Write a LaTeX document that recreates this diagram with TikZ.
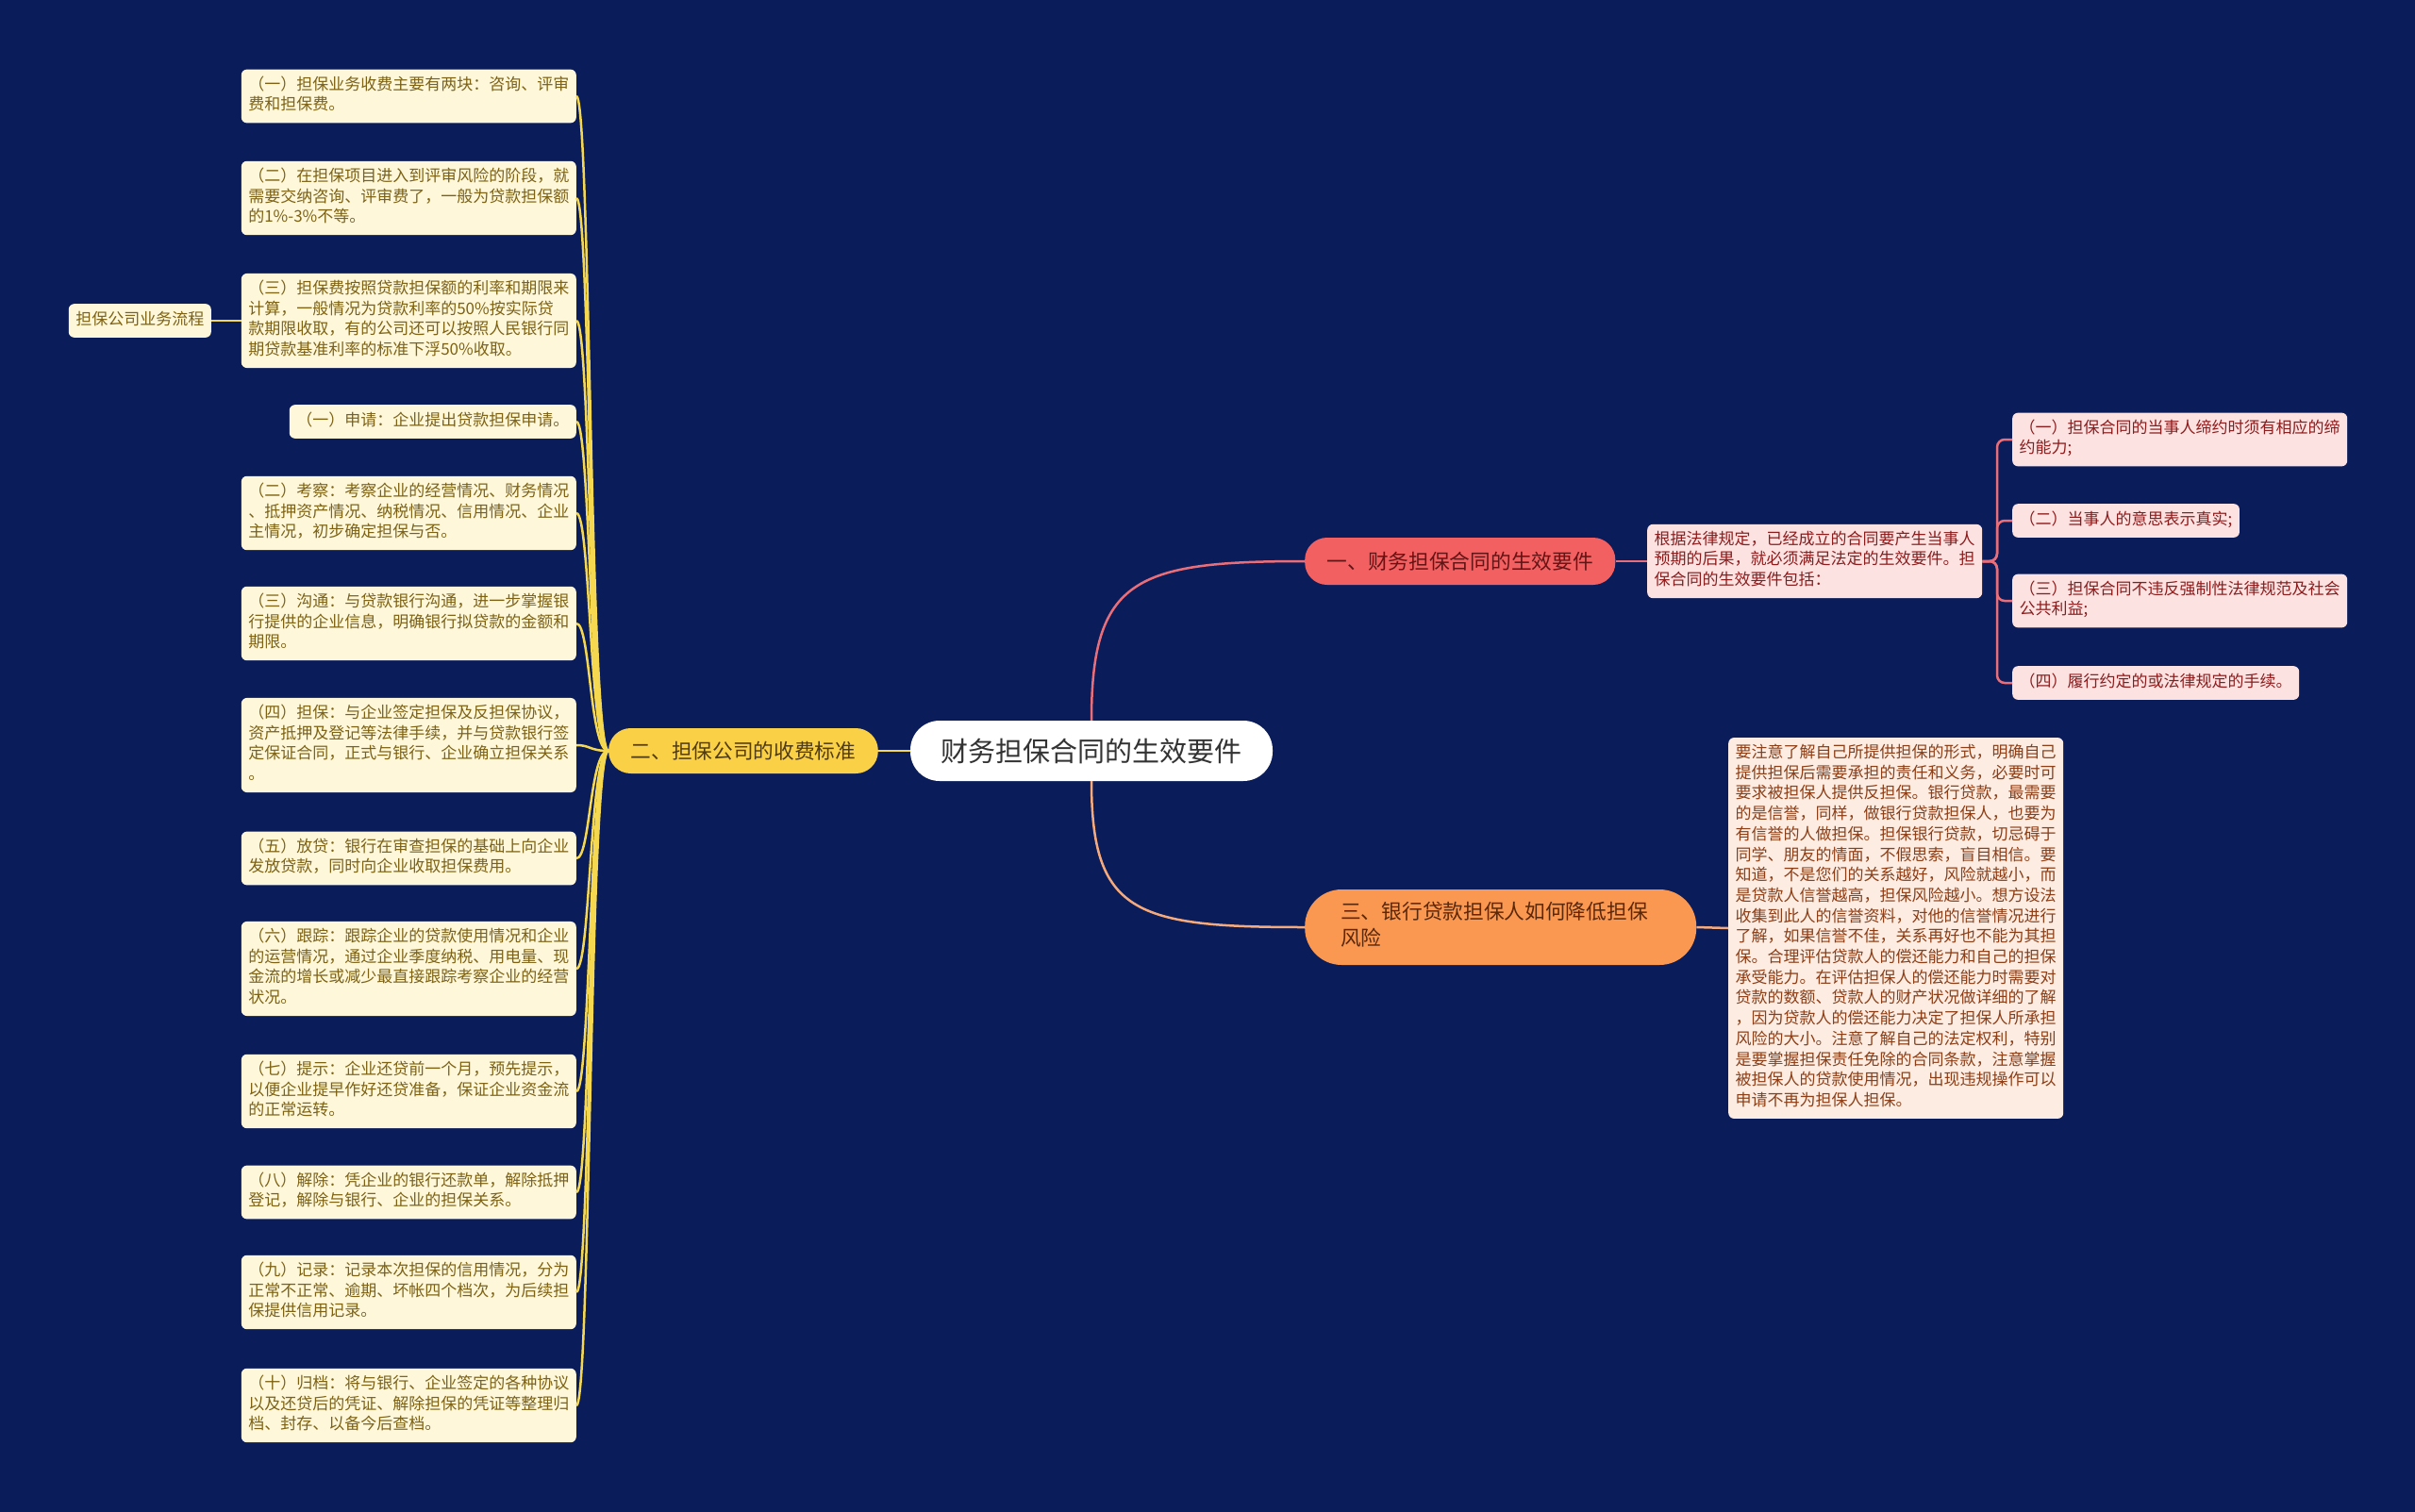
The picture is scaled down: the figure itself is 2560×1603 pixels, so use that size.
\documentclass[tikz,border=0pt]{standalone}
\usepackage{fontspec}
\setmainfont{Noto Sans CJK SC}
\definecolor{navy}{RGB}{10,29,90}
\definecolor{leaffill}{RGB}{254,247,218}
\definecolor{leaftext}{RGB}{125,98,20}
\definecolor{pinkfill}{RGB}{253,226,226}
\definecolor{pinktext}{RGB}{140,28,28}
\definecolor{peachfill}{RGB}{253,236,226}
\definecolor{peachtext}{RGB}{140,62,22}
\definecolor{redfill}{RGB}{242,96,98}
\definecolor{redtext}{RGB}{100,20,20}
\definecolor{yellowfill}{RGB}{250,208,70}
\definecolor{yellowtext}{RGB}{80,60,20}
\definecolor{orangefill}{RGB}{250,152,82}
\definecolor{orangetext}{RGB}{90,40,10}
\definecolor{yline}{RGB}{245,215,80}
\definecolor{rline}{RGB}{232,110,122}
\definecolor{oline}{RGB}{245,170,125}
\tikzset{
  box/.style={rounded corners=6pt, inner xsep=7.5pt, inner ysep=7pt, align=left,
    font=\fontsize{17}{21.7}\selectfont, execute at begin node=\strut, execute at end node=\strut},
  leaf/.style={box, fill=leaffill, text=leaftext, anchor=east},
  pinkbox/.style={box, fill=pinkfill, text=pinktext, anchor=west},
  peachbox/.style={box, fill=peachfill, text=peachtext, anchor=west},
  rootnode/.style={fill=white, text=black!80, font=\fontsize{29}{36}\selectfont,
    minimum height=64pt, minimum width=384pt, inner xsep=0pt, inner ysep=0pt, rounded corners=31pt},
  branch/.style={font=\fontsize{21.7}{28}\selectfont, inner xsep=23.5pt, inner ysep=0pt,
    minimum height=48pt, rounded corners=23.5pt},
  ylink/.style={draw=yline, line width=2.5pt},
  rlink/.style={draw=rline, line width=2.5pt},
  olink/.style={draw=oline, line width=2.5pt}
}
\begin{document}
\begin{tikzpicture}[x=1pt, y=-1pt]
\fill[navy] (0,0) rectangle (2560,1603);
\useasboundingbox (0,0) rectangle (2560,1603);
\node[rootnode] (root) at (1157,796) {财务担保合同的生效要件};
\node[branch, fill=yellowfill, text=yellowtext, anchor=east] (b2) at (931,796) {二、担保公司的收费标准};
\node[branch, fill=redfill, text=redtext, anchor=west, minimum height=50pt] (b1) at (1383,595) {一、财务担保合同的生效要件};
\node[box, fill=orangefill, text=orangetext, anchor=west, font=\fontsize{21.7}{28}\selectfont,
  text width=339pt, inner xsep=38pt, inner ysep=12pt, rounded corners=39pt] (b3) at (1383,983)
  {三、银行贷款担保人如何降低担保\\风险};
\node[pinkbox] (p1) at (1746,595) {根据法律规定，已经成立的合同要产生当事人\\预期的后果，就必须满足法定的生效要件。担\\保合同的生效要件包括：};
\node[pinkbox] (c1) at (2133,466) {（一）担保合同的当事人缔约时须有相应的缔\\约能力;};
\node[pinkbox] (c2) at (2133,552) {（二）当事人的意思表示真实;};
\node[pinkbox] (c3) at (2133,637) {（三）担保合同不违反强制性法律规范及社会\\公共利益;};
\node[pinkbox] (c4) at (2133,724) {（四）履行约定的或法律规定的手续。};
\coordinate (sp1) at (2117,595);
\node[peachbox] (p3) at (1832,984) {要注意了解自己所提供担保的形式，明确自己\\提供担保后需要承担的责任和义务，必要时可\\要求被担保人提供反担保。银行贷款，最需要\\的是信誉，同样，做银行贷款担保人，也要为\\有信誉的人做担保。担保银行贷款，切忌碍于\\同学、朋友的情面，不假思索，盲目相信。要\\知道，不是您们的关系越好，风险就越小，而\\是贷款人信誉越高，担保风险越小。想方设法\\收集到此人的信誉资料，对他的信誉情况进行\\了解，如果信誉不佳，关系再好也不能为其担\\保。合理评估贷款人的偿还能力和自己的担保\\承受能力。在评估担保人的偿还能力时需要对\\贷款的数额、贷款人的财产状况做详细的了解\\，因为贷款人的偿还能力决定了担保人所承担\\风险的大小。注意了解自己的法定权利，特别\\是要掌握担保责任免除的合同条款，注意掌握\\被担保人的贷款使用情况，出现违规操作可以\\申请不再为担保人担保。};
\node[leaf] (l1) at (611,102) {（一）担保业务收费主要有两块：咨询、评审\\费和担保费。};
\node[leaf] (l2) at (611,210) {（二）在担保项目进入到评审风险的阶段，就\\需要交纳咨询、评审费了，一般为贷款担保额\\的1\%-3\%不等。};
\node[leaf] (l3) at (611,340) {（三）担保费按照贷款担保额的利率和期限来\\计算，一般情况为贷款利率的50\%按实际贷\\款期限收取，有的公司还可以按照人民银行同\\期贷款基准利率的标准下浮50\%收取。};
\node[leaf] (l4) at (611,447) {（一）申请：企业提出贷款担保申请。};
\node[leaf] (l5) at (611,544) {（二）考察：考察企业的经营情况、财务情况\\、抵押资产情况、纳税情况、信用情况、企业\\主情况，初步确定担保与否。};
\node[leaf] (l6) at (611,661) {（三）沟通：与贷款银行沟通，进一步掌握银\\行提供的企业信息，明确银行拟贷款的金额和\\期限。};
\node[leaf] (l7) at (611,790) {（四）担保：与企业签定担保及反担保协议，\\资产抵押及登记等法律手续，并与贷款银行签\\定保证合同，正式与银行、企业确立担保关系\\。};
\node[leaf] (l8) at (611,910) {（五）放贷：银行在审查担保的基础上向企业\\发放贷款，同时向企业收取担保费用。};
\node[leaf] (l9) at (611,1027) {（六）跟踪：跟踪企业的贷款使用情况和企业\\的运营情况，通过企业季度纳税、用电量、现\\金流的增长或减少最直接跟踪考察企业的经营\\状况。};
\node[leaf] (l10) at (611,1157) {（七）提示：企业还贷前一个月，预先提示，\\以便企业提早作好还贷准备，保证企业资金流\\的正常运转。};
\node[leaf] (l11) at (611,1264) {（八）解除：凭企业的银行还款单，解除抵押\\登记，解除与银行、企业的担保关系。};
\node[leaf] (l12) at (611,1370) {（九）记录：记录本次担保的信用情况，分为\\正常不正常、逾期、坏帐四个档次，为后续担\\保提供信用记录。};
\node[leaf] (l13) at (611,1490) {（十）归档：将与银行、企业签定的各种协议\\以及还贷后的凭证、解除担保的凭证等整理归\\档、封存、以备今后查档。};
\node[leaf] (side) at (224,340) {担保公司业务流程};
\draw[rlink] (root.north) .. controls +(0,-150) and +(-180,0) .. (b1.west);
\draw[olink] (root.south) .. controls +(0,140) and +(-180,0) .. (b3.west);
\draw[ylink] (root.west) -- (b2.east);
\draw[rlink] (b1.east) -- (p1.west);
\foreach \c in {c1,c2,c3,c4}
  \draw[rlink, rounded corners=8pt] (p1.east) -- (sp1) |- (\c.west);
\draw[olink] (b3.east) -- (p3.west);
\foreach \n in {1,...,13}
  \draw[ylink] (b2.west) .. controls +(-20,0) and +(15,0) .. (l\n.east);
\draw[ylink] (side.east) -- (l3.west);
\end{tikzpicture}
\end{document}
